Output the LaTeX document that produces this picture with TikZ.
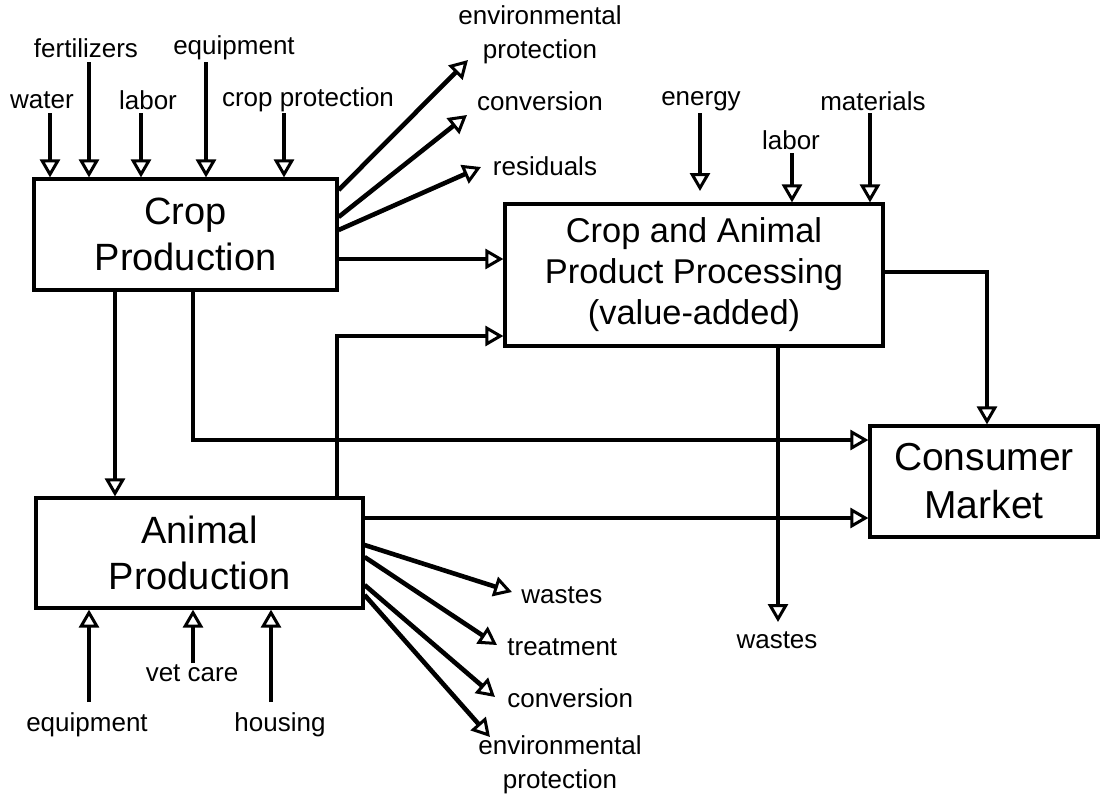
\documentclass[tikz,border=0pt]{standalone}
\usepackage{fontspec}
\setmainfont{Liberation Sans}
\usetikzlibrary{arrows.meta}

\begin{document}
\begin{tikzpicture}[x=0.5pt, y=-0.5pt]
	\tikzstyle{boxStyle}=[draw, line width=1.6pt, inner sep=0pt, align=center]
	\tikzstyle{labelStyle}=[inner sep=0pt, align=center, font=\fontsize{13}{17}\selectfont]
	\tikzstyle{flowStyle}=[line width=2.3pt, -{Triangle[open, length=9pt, width=10pt, line width=1.5pt]}]
	\tikzstyle{thinFlowStyle}=[flowStyle, line width=1.7pt]
	\useasboundingbox (0,0) rectangle (1100,794);
	% boxes
	\node[boxStyle, minimum width=151.5pt, minimum height=55.5pt, font=\fontsize{19}{23}\selectfont] (cropProd) at (185.5,234.5) {Crop\\Production};
	\node[boxStyle, minimum width=163.5pt, minimum height=55pt, font=\fontsize{19}{23}\selectfont] (animalProd) at (199.5,553) {Animal\\Production};
	\node[boxStyle, minimum width=189pt, minimum height=71pt, font=\fontsize{17.2}{20.5}\selectfont] (proc) at (694,275) {Crop and Animal\\Product Processing\\(value-added)};
	\node[boxStyle, minimum width=114pt, minimum height=55.5pt, font=\fontsize{19.5}{24}\selectfont] (market) at (984,481.5) {Consumer\\Market};
	% labels
	\node[labelStyle] (lblWater) at (42,100) {water};
	\node[labelStyle] (lblFert) at (86,48) {fertilizers};
	\node[labelStyle] (lblLabor) at (148,100) {labor};
	\node[labelStyle] (lblEquip) at (234,48) {equipment};
	\node[labelStyle] (lblCropProt) at (308,100) {crop protection};
	\node[labelStyle] (lblEnvTop) at (540,35) {environmental\\protection};
	\node[labelStyle] (lblConvTop) at (540,101) {conversion};
	\node[labelStyle] (lblResid) at (545,166) {residuals};
	\node[labelStyle] (lblEnergy) at (701,101) {energy};
	\node[labelStyle] (lblLaborP) at (791,140) {labor};
	\node[labelStyle] (lblMater) at (873,101) {materials};
	\node[labelStyle] (lblWastesP) at (777,640) {wastes};
	\node[labelStyle] (lblEquipA) at (87,725) {equipment};
	\node[labelStyle] (lblVet) at (192,673) {vet care};
	\node[labelStyle] (lblHousing) at (280,725) {housing};
	\node[labelStyle, anchor=west] (lblWastesA) at (521,595) {wastes};
	\node[labelStyle, anchor=west] (lblTreat) at (507,647) {treatment};
	\node[labelStyle, anchor=west] (lblConvA) at (507,698) {conversion};
	\node[labelStyle] (lblEnvA) at (560,765) {environmental\\protection};
	% free ends
	\coordinate (inWater) at (50,113);
	\coordinate (inFert) at (89,62);
	\coordinate (inLabor) at (141,113);
	\coordinate (inEquip) at (206,62);
	\coordinate (inCropProt) at (284,113);
	\coordinate (outEnvTop) at (468,60);
	\coordinate (outConvTop) at (467,115);
	\coordinate (outResid) at (481,167);
	\coordinate (inEnergy) at (700,113);
	\coordinate (tipEnergy) at (700,191);
	\coordinate (inLaborP) at (792,153);
	\coordinate (inMater) at (870,113);
	\coordinate (outWastesP) at (778,622);
	\coordinate (inEquipA) at (89,702);
	\coordinate (inVet) at (193,663);
	\coordinate (inHousing) at (271,702);
	\coordinate (outWastesA) at (512,592);
	\coordinate (outTreat) at (497,645);
	\coordinate (outConvA) at (495,697);
	\coordinate (outEnvA) at (490,737);
	% inputs to crop production
	\draw[flowStyle] (inWater) -- (inWater |- cropProd.north);
	\draw[flowStyle] (inFert) -- (inFert |- cropProd.north);
	\draw[flowStyle] (inLabor) -- (inLabor |- cropProd.north);
	\draw[flowStyle] (inEquip) -- (inEquip |- cropProd.north);
	\draw[flowStyle] (inCropProt) -- (inCropProt |- cropProd.north);
	% outputs of crop production
	\draw[flowStyle] (cropProd.east |- 0,190) -- (outEnvTop);
	\draw[flowStyle] (cropProd.east |- 0,217) -- (outConvTop);
	\draw[flowStyle] (cropProd.east |- 0,230) -- (outResid);
	\draw[flowStyle] (cropProd.east |- 0,259) -- (proc.west |- 0,259);
	\draw[flowStyle] (cropProd.south -| 115,0) -- (animalProd.north -| 115,0);
	\draw[thinFlowStyle] (cropProd.south -| 193,0) |- (market.west |- 0,440);
	% processing
	\draw[flowStyle] (inEnergy) -- (tipEnergy);
	\draw[flowStyle] (inLaborP) -- (inLaborP |- proc.north);
	\draw[flowStyle] (inMater) -- (inMater |- proc.north);
	\draw[flowStyle] (proc.east |- 0,272) -| (market.north -| 987,0);
	\draw[thinFlowStyle] (proc.south -| outWastesP) -- (outWastesP);
	% animal production
	\draw[thinFlowStyle] (animalProd.north -| 337,0) |- (proc.west |- 0,336);
	\draw[flowStyle] (animalProd.east |- 0,518) -- (market.west |- 0,518);
	\draw[flowStyle] (animalProd.east |- 0,545) -- (outWastesA);
	\draw[flowStyle] (animalProd.east |- 0,557) -- (outTreat);
	\draw[flowStyle] (animalProd.east |- 0,585) -- (outConvA);
	\draw[flowStyle] (animalProd.east |- 0,595) -- (outEnvA);
	\draw[flowStyle] (inEquipA) -- (inEquipA |- animalProd.south);
	\draw[thinFlowStyle] (inVet) -- (inVet |- animalProd.south);
	\draw[flowStyle] (inHousing) -- (inHousing |- animalProd.south);
\end{tikzpicture}
\end{document}
